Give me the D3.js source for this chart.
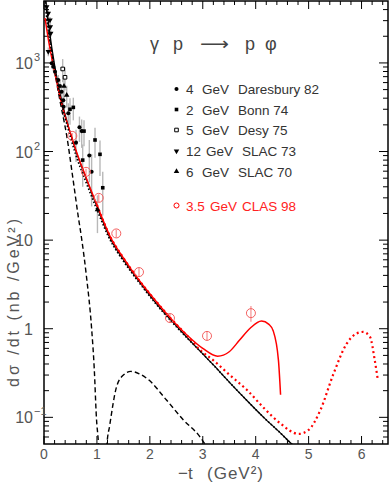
<!DOCTYPE html>
<html>
<head>
<meta charset="utf-8">
<script src="https://cdn.jsdelivr.net/npm/d3@7"></script>
<style>
  body { margin: 0; background: #fff; }
  text { font-family: "Liberation Sans", Arial, sans-serif; }
</style>
</head>
<body>
<svg id="chart" width="389" height="485"></svg>
<script>
// axis ticks
const xMajor = [0, 1, 2, 3, 4, 5, 6];
const xLabels = ["0", "1", "2", "3", "4", "5", "6"];
const yMajor = [0.1, 1, 10, 100, 1000];
const yBase = ["10", "1", "10", "10", "10"];
const yExp = ["\u22121", "", "", "2", "3"];

// model curves [-t, dsigma/dt]
const redSolid = [[0.02,3200],[0.1,1600],[0.2,800],[0.3,420],[0.4,250],[0.5,160],[0.6,105],[0.8,50],[1.0,25],[1.25,11],[1.5,6.3],[1.8,3.5],[2.1,2.1],[2.4,1.3],[2.7,0.85],[3.0,0.6],[3.28,0.49],[3.5,0.55],[3.7,0.75],[3.9,1.02],[4.11,1.22],[4.25,1.12],[4.33,0.95],[4.43,0.44],[4.47,0.18]];
const redDotted = [[1.0,25],[1.25,11],[1.5,6.3],[1.8,3.5],[2.1,2.1],[2.4,1.3],[2.7,0.84],[2.95,0.575],[3.2,0.44],[3.51,0.3],[3.83,0.205],[4.14,0.13],[4.46,0.086],[4.81,0.065],[5.0,0.072],[5.22,0.12],[5.47,0.31],[5.72,0.68],[5.9,0.88],[6.03,0.92],[6.16,0.81],[6.25,0.44],[6.31,0.26]];
const blackSolid = [[0.0,6500],[0.05,4200],[0.1,2400],[0.2,950],[0.3,460],[0.4,260],[0.5,160],[0.6,103],[0.8,49],[1.0,24],[1.25,10.5],[1.5,6.0],[1.8,3.4],[2.1,2.0],[2.4,1.25],[2.7,0.8],[3.0,0.52],[3.2,0.39],[3.5,0.25],[3.82,0.158],[4.15,0.1],[4.45,0.068],[4.68,0.05],[4.8,0.043]];
const blackDotted = [[0.02,4500],[0.1,2000],[0.2,850],[0.3,420],[0.4,240],[0.5,145],[0.6,92],[0.8,44],[1.0,22],[1.25,10],[1.5,5.8],[1.8,3.3],[2.1,1.95],[2.4,1.22],[2.7,0.79],[3.0,0.52],[3.2,0.39],[3.5,0.25],[3.82,0.158],[4.15,0.1],[4.45,0.068],[4.68,0.05],[4.8,0.043]];
const dashedSteep = [[0.0,8000],[0.1,2100],[0.2,820],[0.3,380],[0.43,150],[0.55,48],[0.65,18],[0.71,10.5],[0.8,4],[0.9,1],[0.95,0.35],[0.99,0.1],[1.03,0.05],[1.05,0.03]];
const dashedHump = [[1.17,0.03],[1.19,0.05],[1.24,0.08],[1.37,0.22],[1.5,0.3],[1.64,0.33],[1.8,0.31],[1.96,0.27],[2.31,0.158],[2.63,0.094],[2.94,0.061],[3.04,0.05],[3.1,0.044]];

// data [-t, value, error]
const daresbury = [[0.146,990,120],[0.176,906,100],[0.208,795,100],[0.27,641,90],[0.302,548,100],[0.334,473,80],[0.365,380,80],[0.37,320,80],[0.459,270,80],[0.67,188,60],[0.712,170,60],[0.605,126,50],[0.856,90,45],[0.90,59,35]];
const bonn = [[0.491,300,100],[0.554,315,90],[0.756,170,55],[0.964,135,50],[1.058,93,40],[0.731,80,40],[1.11,39,20]];
const desy = [[0.353,855,250],[0.397,688,200]];
const slac73 = [[0.051,4310,300],[0.081,3630,300],[0.113,3050,250],[0.12,2560,250],[0.127,2160,200],[0.081,1340,150]];
const slac70 = [[0.378,548,150],[0.429,434,120],[1.01,22,10]];
const clas = [[0.535,150,12],[0.794,59,5],[1.034,30,3],[1.366,11.9,1.2],[1.795,4.36,0.5],[2.38,1.32,0.15],[3.08,0.83,0.1],[3.91,1.5,0.3]];

const legendEnergy = ["4", "2", "5", "12", "6", "3.5"];
const legendLab = ["Daresbury 82", "Bonn 74", "Desy 75", "SLAC 73", "SLAC 70", "CLAS 98"];

const svg = d3.select('#chart');
const pLeft = 44, pRight = 388, pTop = 1, pBottom = 444;

const x = d3.scaleLinear().domain([0, 6.5]).range([pLeft, pRight]);
const y = d3.scaleLog().domain([0.05, 5000]).range([pBottom, pTop]);

svg.append('defs').append('clipPath').attr('id', 'clip')
  .append('rect').attr('x', pLeft).attr('y', pTop)
  .attr('width', pRight - pLeft).attr('height', pBottom - pTop);

// ticks
const xMinor = d3.range(0, 6.5, 0.2).filter(v => Math.abs(v - Math.round(v)) > 0.01);
const yMinor = [];
[0.01, 0.1, 1, 10, 100, 1000].forEach(d => {
  for (let k = 2; k <= 9; k++) {
    const v = d * k;
    if (v > 0.05 && v < 5000) yMinor.push(v);
  }
});

const ticks = svg.append('g').attr('stroke', '#000').attr('stroke-width', 1);
xMajor.forEach(v => {
  ticks.append('line').attr('x1', x(v)).attr('x2', x(v)).attr('y1', pBottom).attr('y2', pBottom - 8);
  ticks.append('line').attr('x1', x(v)).attr('x2', x(v)).attr('y1', pTop).attr('y2', pTop + 8);
});
xMinor.forEach(v => {
  ticks.append('line').attr('x1', x(v)).attr('x2', x(v)).attr('y1', pBottom).attr('y2', pBottom - 4);
  ticks.append('line').attr('x1', x(v)).attr('x2', x(v)).attr('y1', pTop).attr('y2', pTop + 4);
});
yMajor.forEach(v => {
  ticks.append('line').attr('x1', pLeft).attr('x2', pLeft + 9).attr('y1', y(v)).attr('y2', y(v));
  ticks.append('line').attr('x1', pRight).attr('x2', pRight - 9).attr('y1', y(v)).attr('y2', y(v));
});
yMinor.forEach(v => {
  ticks.append('line').attr('x1', pLeft).attr('x2', pLeft + 5).attr('y1', y(v)).attr('y2', y(v));
  ticks.append('line').attr('x1', pRight).attr('x2', pRight - 5).attr('y1', y(v)).attr('y2', y(v));
});

// frame
svg.append('rect').attr('x', pLeft).attr('y', pTop)
  .attr('width', pRight - pLeft).attr('height', pBottom - pTop)
  .attr('fill', 'none').attr('stroke', '#000').attr('stroke-width', 1.5);

// tick labels
svg.append('g').selectAll('text').data(xMajor).join('text')
  .attr('x', d => x(d)).attr('y', 459)
  .attr('text-anchor', 'middle')
  .style('font-size', '14px').style('fill', '#555')
  .text((d, i) => xLabels[i]);

const yl = svg.append('g').selectAll('g').data(yMajor).join('g');
yl.append('text')
  .attr('x', 33).attr('y', d => y(d) + 6)
  .attr('text-anchor', 'end')
  .style('font-size', '16px').style('fill', '#555')
  .text((d, i) => yBase[i]);
yl.append('text')
  .attr('x', 34).attr('y', d => y(d) - 2)
  .style('font-size', '11px').style('fill', '#555')
  .text((d, i) => yExp[i]);

// axis titles
svg.append('text')
  .attr('transform', 'translate(19,303) rotate(-90)')
  .attr('text-anchor', 'middle')
  .attr('textLength', 168)
  .style('font-size', '16px').style('fill', '#555')
  .text('d\u03c3 /dt  (nb /GeV\u00b2)');
const xt = svg.append('g').style('font-size', '17px').style('fill', '#555');
xt.append('text').attr('x', 178).attr('y', 479).text('\u2212t');
xt.append('text').attr('x', 207).attr('y', 479).attr('textLength', 56).text('(GeV\u00b2)');

// reaction title
const title = svg.append('g').style('font-size', '18px').style('fill', '#444');
title.append('text').attr('x', 150).attr('y', 50).text('\u03b3');
title.append('text').attr('x', 173).attr('y', 50).text('p');
title.append('text').attr('x', 200).attr('y', 50)
  .attr('textLength', 29).attr('lengthAdjust', 'spacingAndGlyphs')
  .style('font-family', 'DejaVu Sans').text('\u27f6');
title.append('text').attr('x', 245).attr('y', 50).text('p');
title.append('text').attr('x', 265).attr('y', 50).text('\u03c6');

// error bars
const eb = svg.append('g').attr('clip-path', 'url(#clip)');
[daresbury, bonn, desy, slac73, slac70].forEach(set => {
  eb.selectAll(null).data(set).join('line')
    .attr('x1', d => x(d[0])).attr('x2', d => x(d[0]))
    .attr('y1', d => y(d[1] + d[2])).attr('y2', d => y(Math.max(d[1] - d[2], 0.06)))
    .attr('stroke', '#b8b8b8').attr('stroke-width', 1.4);
});
eb.selectAll(null).data(clas).join('line')
  .attr('x1', d => x(d[0])).attr('x2', d => x(d[0]))
  .attr('y1', d => y(d[1] + d[2])).attr('y2', d => y(d[1] - d[2]))
  .attr('stroke', '#f7a0a0').attr('stroke-width', 1.4);

// curves
const line = d3.line().x(d => x(d[0])).y(d => y(d[1])).curve(d3.curveMonotoneX);
const curves = svg.append('g').attr('clip-path', 'url(#clip)').attr('fill', 'none');
curves.append('path').attr('d', line(dashedSteep))
  .attr('stroke', '#000').attr('stroke-width', 1.4).attr('stroke-dasharray', '5,3');
curves.append('path').attr('d', line(dashedHump))
  .attr('stroke', '#000').attr('stroke-width', 1.4).attr('stroke-dasharray', '5,3');
curves.append('path').attr('d', line(blackSolid))
  .attr('stroke', '#000').attr('stroke-width', 1.2);
curves.append('path').attr('d', line(redDotted))
  .attr('stroke', '#f00').attr('stroke-width', 2.2).attr('stroke-dasharray', '2,3');
curves.append('path').attr('d', line(redSolid))
  .attr('stroke', '#f00').attr('stroke-width', 1.5);
curves.append('path').attr('d', line(blackDotted))
  .attr('stroke', '#000').attr('stroke-width', 1.6).attr('stroke-dasharray', '1.5,2');

// markers
const marks = svg.append('g').attr('clip-path', 'url(#clip)');
function drawSet(set, type, rot, fill) {
  marks.selectAll(null).data(set).join('path')
    .attr('d', d3.symbol().type(type).size(13))
    .attr('transform', d => `translate(${x(d[0])},${y(d[1])}) rotate(${rot})`)
    .attr('fill', fill ? '#000' : '#fff')
    .attr('stroke', '#000').attr('stroke-width', fill ? 0 : 1);
}
drawSet(daresbury, d3.symbolCircle, 0, true);
drawSet(bonn, d3.symbolSquare, 0, true);
drawSet(desy, d3.symbolSquare, 0, false);
drawSet(slac73, d3.symbolTriangle, 180, true);
drawSet(slac70, d3.symbolTriangle, 0, true);

marks.selectAll(null).data(clas).join('circle')
  .attr('cx', d => x(d[0])).attr('cy', d => y(d[1])).attr('r', 4.5)
  .attr('fill', 'none').attr('stroke', '#f46060').attr('stroke-width', 1);

// legend
const legY = [89, 109.5, 130, 151, 171.5, 205.5];
const legTypes = [d3.symbolCircle, d3.symbolSquare, d3.symbolSquare, d3.symbolTriangle, d3.symbolTriangle, d3.symbolCircle];
const legRot = [0, 0, 0, 180, 0, 0];
const legFill = [true, true, false, true, true, false];
const gevX = [202, 202, 202, 206, 202, 210];
const labX = [238, 238, 238, 242, 238, 242];

const leg = svg.append('g').selectAll('g').data(legendLab).join('g');
leg.append('path')
  .attr('d', (d, i) => d3.symbol().type(legTypes[i]).size(i === 5 ? 20 : 13)())
  .attr('transform', (d, i) => `translate(176.5,${legY[i]}) rotate(${legRot[i]})`)
  .attr('fill', (d, i) => legFill[i] ? '#000' : '#fff')
  .attr('stroke', (d, i) => i === 5 ? '#f00' : '#000')
  .attr('stroke-width', (d, i) => legFill[i] ? 0 : 1);
const legText = leg.append('g')
  .style('font-size', '13.5px')
  .style('fill', (d, i) => i === 5 ? '#f22' : '#333');
legText.append('text').attr('x', 186).attr('y', (d, i) => legY[i] + 5).text((d, i) => legendEnergy[i]);
legText.append('text').attr('x', (d, i) => gevX[i]).attr('y', (d, i) => legY[i] + 5).text('GeV');
legText.append('text').attr('x', (d, i) => labX[i]).attr('y', (d, i) => legY[i] + 5).text(d => d);
</script>
</body>
</html>
